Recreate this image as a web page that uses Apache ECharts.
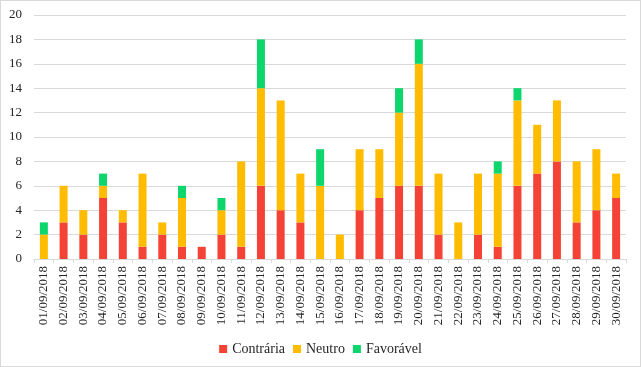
<!DOCTYPE html>
<html><head><meta charset="utf-8">
<script src="https://cdn.jsdelivr.net/npm/echarts@6/dist/echarts.min.js"></script>
<style>html,body{margin:0;padding:0;background:#fff}#c{width:641px;height:367px;box-sizing:border-box;border:1px solid #d9d9d9}</style>
</head><body><div id="c"></div>
<script>
var categories = ["01/09/2018","02/09/2018","03/09/2018","04/09/2018","05/09/2018","06/09/2018","07/09/2018","08/09/2018","09/09/2018","10/09/2018","11/09/2018","12/09/2018","13/09/2018","14/09/2018","15/09/2018","16/09/2018","17/09/2018","18/09/2018","19/09/2018","20/09/2018","21/09/2018","22/09/2018","23/09/2018","24/09/2018","25/09/2018","26/09/2018","27/09/2018","28/09/2018","29/09/2018","30/09/2018"];
var contraria = [0,3,2,5,3,1,2,1,1,2,1,6,4,3,0,0,4,5,6,6,2,0,2,1,6,7,8,3,4,5];
var neutro    = [2,3,2,1,1,6,1,4,0,2,7,8,9,4,6,2,5,4,6,10,5,3,5,6,7,4,5,5,5,2];
var favoravel = [1,0,0,1,0,0,0,1,0,1,0,4,0,0,3,0,0,0,2,2,0,0,0,1,1,0,0,0,0,0];
var seriesNames = ["Contrária","Neutro","Favorável"];
var font = "'Liberation Serif','Times New Roman',serif";
var chart = echarts.init(document.getElementById('c'));
function mk(name, data, color){
  return {name:name,type:'bar',stack:'t',data:data,barWidth:8,itemStyle:{color:color},emphasis:{disabled:true}};
}
chart.setOption({
  animation:false,
  grid:{left:33,right:14,top:14,bottom:107},
  legend:{bottom:5,left:'center',itemWidth:8,itemHeight:8,itemGap:8,icon:'rect',
    textStyle:{fontFamily:font,fontSize:14,color:'#262626'},data:seriesNames},
  xAxis:{type:'category',data:categories,
    axisLine:{lineStyle:{color:'#d9d9d9'}},
    axisTick:{show:true,length:4,lineStyle:{color:'#d9d9d9'}},
    axisLabel:{rotate:90,interval:0,fontFamily:font,fontSize:13,color:'#262626',margin:7}},
  yAxis:{type:'value',min:0,max:20,interval:2,
    axisLine:{show:false},axisTick:{show:false},
    splitLine:{lineStyle:{color:'#d9d9d9'}},
    axisLabel:{fontFamily:font,fontSize:13,color:'#262626',margin:12}},
  series:[mk(seriesNames[0],contraria,'#F44336'),mk(seriesNames[1],neutro,'#FFBC00'),mk(seriesNames[2],favoravel,'#0DD66C')]
});
</script></body></html>
